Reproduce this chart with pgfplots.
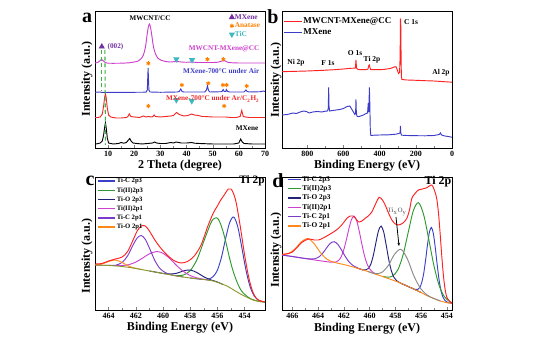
\documentclass[border=0pt]{standalone}
\usepackage{pgfplots}
\pgfplotsset{compat=1.18}
\usepackage{fontspec}
\setmainfont{Liberation Serif}
\usetikzlibrary{arrows.meta}
\definecolor{cMag}{HTML}{CC3FCC}
\definecolor{cBlu}{HTML}{3C3CC8}
\definecolor{cRed}{HTML}{F02828}
\definecolor{cPur}{HTML}{7030A0}
\definecolor{cOra}{HTML}{FF8000}
\definecolor{cTeal}{HTML}{3DB8C0}
\definecolor{cGrn}{HTML}{3CB043}
\definecolor{xBlue}{HTML}{3A40C8}
\definecolor{xGreen}{HTML}{2E9A2E}
\definecolor{xNavy}{HTML}{22227A}
\definecolor{xMag}{HTML}{D040D0}
\definecolor{xViol}{HTML}{7A3CC8}
\definecolor{xOra}{HTML}{FF8A1A}
\definecolor{xOlive}{HTML}{8C9A2C}
\definecolor{xRed}{HTML}{FF2020}
\definecolor{xGray}{HTML}{8A8A8A}
\newcommand{\FS}[1]{\fontsize{#1}{#1}\selectfont\bfseries}
\pgfplotsset{
  base/.style={
    scale only axis, width=127.5pt, anchor=south west,
    axis line style={line width=0.6pt},
    ytick=\empty, xtick pos=bottom, tick align=inside,
    major tick length=2pt, minor tick length=1.2pt,
    minor x tick num=1,
    tick label style={font=\FS{6}},
    xticklabel style={yshift=1pt},
    /pgf/number format/assume math mode=true,
    /pgf/number format/1000 sep={},
    every axis plot/.append style={line width=0.7pt},
    legend cell align=left,
  }
}
\begin{document}
\begin{tikzpicture}
\path[use as bounding box] (0,0) rectangle (414.75pt,253.5pt);

% ---------------- panel a ----------------
\begin{axis}[base, at={(71.25pt,142.5pt)}, height=102.75pt,
  xmin=5, xmax=70, ymin=0, ymax=137, xtick={10,20,...,70},
  legend style={at={(0.79,0.985)}, anchor=north west, draw=none, fill=none,
    font=\FS{5.5}, row sep=0.4pt, inner sep=0pt,
    nodes={inner sep=0.5pt, text height=4pt, text depth=1pt}},
  legend image code/.code={\draw[mark repeat=2,mark phase=2,#1] plot coordinates {(0pt,0pt)(3pt,0pt)(6pt,0pt)};}]
\addplot[forget plot, black] coordinates {(5,4)(6,4.3)(7,5)(7.8,7)(8.3,13)(8.7,21)(9.0,25)(9.3,20)(9.7,10)(10.2,5)(11,4.5)(12,4)(14,4.5)(15,5.5)(16,4.8)(17,5.5)(17.8,8)(18.3,9.5)(18.8,7)(19.5,5)(21,4.5)(23,4)(25,4.5)(27,5)(27.8,6)(28.5,5)(30,4.5)(32,4.5)(34,5.5)(35,5)(36,6)(37,5.5)(38,5)(40,5)(42,5.5)(43,4.8)(45,4.5)(50,4)(55,4)(58,4)(60,5)(60.7,9)(61.3,6)(62,4.5)(65,4)(70,4)};
\addplot[forget plot, cRed] coordinates {(5,30.5)(6,30.5)(7,31)(7.8,34)(8.3,42)(8.7,51)(9.0,54)(9.3,50)(9.7,40)(10.2,33)(11,31)(13,30)(15,30)(17,30.5)(17.6,31.5)(18.1,34)(18.7,31.5)(20,31)(22,30.5)(23.5,32)(24.5,31)(25.5,31.5)(26.5,31)(27.2,31.5)(27.6,33)(28.1,31.5)(30,31)(32,31.5)(34,32)(35,32.5)(36.2,35.5)(37.2,33.5)(39,32)(40.5,32.5)(42,34)(43,33)(44.5,32.5)(46,31.5)(47,31.5)(50,31)(53,31)(55,31)(57,30.5)(59,30.5)(60.5,31.5)(61.1,37.5)(61.7,31.5)(62.5,31)(64,30.5)(67,30.5)(70,30.5)};
\addplot[forget plot, cBlu] coordinates {(5,55.7)(7,56)(7.5,55.5)(9,55.7)(12,55.7)(20,55.7)(24.5,55.8)(25.0,58)(25.3,80)(25.6,58)(26,56)(30,55.7)(36.5,56)(37.2,56.5)(37.8,59)(38.3,56.5)(39,56)(47,56)(47.6,58)(48,62)(48.4,57.5)(49,56)(53.5,56.3)(54,58.5)(54.4,56.5)(55,56.5)(55.2,58.5)(55.7,56.5)(56.5,56)(62,56)(62.7,58)(63.2,56.5)(64,56)(68.5,56.3)(69.2,57)(70,56.5)};
\addplot[forget plot, cMag, smooth] coordinates {(5,85)(6,85.5)(6.8,87)(7.5,88.7)(8.2,87)(9,85.3)(10,84.8)(12,84.7)(15,84.8)(18,85.2)(20,86)(21.5,87)(22.5,89)(23.5,93)(24.3,101)(24.9,113)(25.4,121)(25.8,124)(26.2,121)(26.7,113)(27.3,102)(28,95)(29,90)(30.5,87.5)(32,86.5)(34,86)(36,86.5)(38,86)(40,85.7)(42,86)(44,85.5)(47,85.5)(50,85.5)(52,85.8)(53.5,87)(54.5,87.3)(55.5,86)(57,85.3)(60,85)(65,85)(70,85)};
\addplot[forget plot, cGrn, line width=0.8pt, dash pattern=on 3pt off 2pt] coordinates {(7.6,98)(7.6,57)};
\addplot[forget plot, cGrn, line width=0.8pt, dash pattern=on 3pt off 2pt] coordinates {(8.8,98)(9.0,3)};
\addplot[only marks, mark=triangle*, mark size=2pt, color=cPur] coordinates {(7.6,101.3)};
\addlegendentry{\textcolor{cPur}{MXene}}
\addplot[only marks, mark=asterisk, mark size=1.6pt, color=cOra] coordinates {(25.4,84.7)(38.2,63)(48.3,64.7)(53.9,63)(55.3,63)(63,62)(48,88.7)(54.1,88.7)(25.4,42)(54.4,42)};
\addlegendentry{\textcolor{cOra}{Anatase}}
\addplot[only marks, mark=triangle*, mark size=2pt, color=cTeal, mark options={rotate=180}] coordinates {(36.1,88.7)(42.1,88)(36.1,48)(42,47)};
\addlegendentry{\textcolor{cTeal}{TiC}}
\end{axis}

% ---------------- panel b ----------------
\begin{axis}[base, at={(211.5pt,142.5pt)}, height=102.75pt, x dir=reverse,
  xmin=0, xmax=940, ymin=0, ymax=137, xtick={0,200,...,800},
  legend style={at={(0.006,0.963)}, anchor=north west, draw=none, fill=none,
    font=\FS{6.75}, row sep=0.75pt, inner sep=0pt,
    nodes={inner sep=0.5pt, text height=5pt, text depth=1.5pt}},
  legend image code/.code={\draw[#1, line width=1pt] (0pt,0pt) -- (13.5pt,0pt);}]
\addplot[xRed] coordinates {(940,76.3)(880,76.6)(800,77)(720,77.6)(650,78.3)(600,79)(560,79.7)(540,79.8)(534,80)(531,88)(528,80)(520,78.5)(480,78.3)(465,78.8)(460,82.5)(457,83)(454,80.5)(450,78.5)(420,78.3)(380,78.5)(340,79.5)(320,81)(310,81.3)(302,78)(296,74.5)(290,75.5)(287,90)(285,128.5)(283.5,128)(282,100)(280,72)(277,68.5)(250,68)(200,67.7)(150,67.3)(100,67)(60,66.5)(0,65.8)};
\addlegendentry{MWCNT-MXene@CC}
\addplot[cBlu] coordinates {(940,33)(910,33.5)(880,35)(860,34.5)(840,36)(820,37)(805,36.5)(790,35)(770,36)(745,36.5)(720,36)(700,36.8)(688,37)(684,40)(682,60.5)(680,42)(677,37)(660,37.5)(640,38)(620,38.5)(600,39.5)(580,41.5)(565,42)(555,39)(545,36)(537,33.5)(533,35)(531,48.5)(529,36)(526,32)(518,31.3)(505,32)(490,33)(475,34.5)(467,35)(463,45)(461,36)(459,40)(457,60.7)(455,50)(452,20)(449,12.5)(430,12.8)(400,13)(350,13.2)(310,13.8)(295,14.5)(287,15)(285,22)(283,15)(279,12.8)(250,12.5)(200,12.3)(150,12.2)(100,12.5)(70,13.5)(64,15)(58,13)(40,12)(20,11.5)(0,10.7)};
\addlegendentry{MXene}
\end{axis}

% ---------------- panel c ----------------
\begin{axis}[base, at={(71.25pt,21pt)}, height=99.75pt, x dir=reverse,
  xmin=452.5, xmax=465, ymin=0, ymax=133, xtick={454,456,...,464},
  legend style={at={(0.015,1.0)}, anchor=north west, draw=none, fill=none,
    font=\FS{5}, row sep=1.1pt, inner sep=0pt,
    nodes={inner sep=0.5pt, text height=3.8pt, text depth=1pt}},
  legend image code/.code={\draw[#1, line width=1pt] (0pt,0pt) -- (12.75pt,0pt);}]
\addplot[xBlue, smooth] coordinates {(458,32)(457.5,31.2)(457,30.5)(456.6,31.1)(456.3,33.6)(456,39.8)(455.7,52.7)(455.4,71.2)(455.1,87.3)(454.8,93)(454.5,83.1)(454.2,62.1)(453.9,39.9)(453.6,23.5)(453.3,14.2)(453,10.1)(452.7,8.5)(452.5,8)};
\addlegendentry{Ti-C 2p3}
\addplot[xGreen, smooth] coordinates {(459,34.4)(458.5,35)(458,39.3)(457.5,50.5)(457,68.7)(456.5,86.5)(456.3,90.8)(456.05,92.2)(455.85,88.8)(455.6,79.3)(455.35,66.3)(455.1,51.5)(454.85,39.1)(454.6,29.4)(454.35,21.8)(454.1,17)(453.6,11.6)(453,8.8)(452.5,8)};
\addlegendentry{Ti(II)2p3}
\addplot[xNavy, smooth] coordinates {(461,39)(460.5,37.8)(460,36.6)(459.5,36)(459,36.7)(458.5,39.1)(458,40)(457.5,37.4)(457,33.2)(456.5,30.2)(456,28)(455.6,25.5)};
\addlegendentry{Ti-O 2p3}
\addplot[xMag, smooth] coordinates {(464,44.6)(463,44.5)(462.5,45.4)(462,47.9)(461.5,51.9)(461,56.2)(460.5,58.4)(460.3,58.2)(460,56.7)(459.5,51.5)(459,44.5)(458.5,38.6)(458,34.4)(457.5,32.1)(457,30.7)(456.5,29.5)};
\addlegendentry{Ti(II)2p1}
\addplot[xViol, smooth] coordinates {(465,45)(464,44.6)(463.5,44.7)(463,47.6)(462.6,54.2)(462.2,65)(461.9,72)(461.6,74.5)(461.3,70.6)(461,62)(460.6,49.5)(460.2,41.1)(459.7,36.5)(459.2,34.6)(458.5,33)};
\addlegendentry{Ti-C 2p1}
\addplot[xOra, smooth] coordinates {(465,45.2)(464.5,45.9)(464,48.5)(463.5,50)(463,47.5)(462.5,43.7)(462,41.7)(461.5,40.3)};
\addlegendentry{Ti-O 2p1}
\addplot[forget plot, xOlive, smooth] coordinates {(465,45)(464,44.5)(463,43.5)(462,41.5)(461,39)(460,36.5)(459,34)(458,32)(457,30.5)(456.3,29)(455.8,26.7)(455.3,24)(454.8,20)(454.3,16)(453.8,12.5)(453.3,9.6)(452.8,8.3)(452.5,8)};
\addplot[forget plot, xRed, smooth] coordinates {(465,46)(464.5,46.5)(464,49)(463.5,51)(463,53)(462.6,58.5)(462.2,70)(461.9,79)(461.6,84)(461.3,84)(461.0,79)(460.6,70)(460.2,62.5)(459.7,55)(459.2,49.5)(458.7,47)(458.2,48.5)(457.7,54)(457.2,65)(456.7,84)(456.3,97)(456.0,104)(455.8,109)(455.5,115)(455.2,121)(455.0,121)(454.8,116)(454.6,106)(454.3,82)(454.0,55)(453.7,33)(453.4,18)(453.1,11)(452.8,9)(452.5,8)};
\end{axis}

% ---------------- panel d ----------------
\begin{axis}[base, at={(211.5pt,21pt)}, height=99.75pt, x dir=reverse,
  xmin=453.6, xmax=466.8, ymin=0, ymax=133, xtick={454,456,...,466},
  legend style={at={(0.03,1.015)}, anchor=north west, draw=none, fill=none,
    font=\FS{5.5}, row sep=0.8pt, inner sep=0pt,
    nodes={inner sep=0.5pt, text height=4pt, text depth=1.2pt}},
  legend image code/.code={\draw[#1, line width=1pt] (0pt,0pt) -- (9.75pt,0pt);}]
\addplot[xBlue, smooth] coordinates {(457.5,26.3)(457,23.5)(456.5,20.7)(456.25,20.6)(456.1,22.5)(455.95,27.4)(455.8,36.3)(455.65,50)(455.5,65.5)(455.35,78.1)(455.2,82.5)(455.05,76.6)(454.9,62.5)(454.75,45.3)(454.6,29.9)(454.45,19)(454.3,12.8)(454.15,9.5)(453.9,7.3)(453.6,6.7)};
\addlegendentry{Ti-C 2p3}
\addplot[xGreen, smooth] coordinates {(459,33.7)(458.6,32.8)(458.2,34)(457.8,40.3)(457.4,55.1)(457,77.6)(456.6,99.4)(456.2,107.3)(455.8,95.2)(455.4,70.4)(455,44.2)(454.6,24.5)(454.2,13.5)(453.8,8.6)(453.6,7.3)};
\addlegendentry{Ti(II)2p3}
\addplot[xNavy, smooth] coordinates {(461,42)(460.5,40)(460.3,40.1)(460.1,41.5)(459.9,46)(459.7,55.1)(459.5,67.8)(459.3,79.6)(459.1,83.9)(458.9,77.8)(458.7,64.2)(458.5,49.7)(458.3,38.8)(458.1,32.5)(457.9,29.3)(457.5,26.3)(457,23.5)(456.5,20.5)(456,17.5)};
\addlegendentry{Ti-O 2p3}
\addplot[xMag, smooth] coordinates {(466.8,55)(465,51.5)(464,49.5)(463,47.8)(462.6,48.1)(462.4,49.6)(462.2,53.3)(462,60.4)(461.8,70.3)(461.6,81.6)(461.4,90.6)(461.2,93.7)(461,89.2)(460.8,78.7)(460.6,65.9)(460.4,54.5)(460.2,46.2)(460,41.2)(459.8,38.3)(459.4,35.2)};
\addlegendentry{Ti(II)2p1}
\addplot[xViol, smooth] coordinates {(466.8,55)(466,53.5)(465.5,52.5)(465,51.5)(464.55,51)(464.25,51.3)(463.95,52.9)(463.65,56.6)(463.35,61.9)(463.05,66.7)(462.75,68.3)(462.45,65.4)(462.15,59.4)(461.85,52.7)(461.55,47.5)(461.25,44.2)(460.95,42.2)(460.5,40)};
\addlegendentry{Ti-C 2p1}
\addplot[xOra, smooth] coordinates {(466.8,55.5)(466.3,56.5)(465.8,61)(465.3,68.2)(464.8,71.6)(464.3,66.2)(463.8,57.1)(463.3,50.7)(462.8,47.9)(462.3,46.3)(462,45.5)(461.5,43.8)(461,42)(460.5,40)(460,38)(459.5,35.7)(459,33.5)(458.5,31.2)(458,29)(457.5,26.3)(457,23.5)(456.5,20.5)(456,17.5)(455.5,14)(455,11.5)(454.5,9)(454,7.3)(453.6,6.7)};
\addlegendentry{Ti-O 2p1}
\addplot[forget plot, xGray, smooth] coordinates {(460.1,38.4)(459.55,36.3)(459.05,37.6)(458.55,44.4)(458.05,56)(457.55,60.6)(457.05,50.6)(456.55,33.8)(456.05,21.7)(455.55,15.2)(455.05,11.7)(454.5,9)};
\addplot[forget plot, xRed, smooth] coordinates {(466.8,55.7)(466.5,56)(466.03,57.7)(465.6,63)(465.25,67.7)(464.74,71)(464.3,70)(463.96,70)(463.6,72)(463.19,75)(462.8,78)(462.41,81.7)(462.1,86)(461.76,91.7)(461.5,94)(461.25,94)(461.0,90)(460.86,88)(460.6,89)(460.34,91.7)(460.1,94)(459.83,98)(459.5,107)(459.26,112.7)(459.0,110)(458.79,105)(458.5,96)(458.27,90)(458.0,86)(457.76,85)(457.4,87)(457.11,91.7)(456.9,100)(456.72,111.7)(456.5,116)(456.21,120)(455.9,121)(455.56,122.3)(455.35,124)(455.17,125)(455.0,121)(454.79,111.7)(454.65,97)(454.53,78)(454.4,55)(454.27,35)(454.15,22)(454.01,13)(453.8,9)(453.62,6.7)};
\end{axis}

% ---------------- texts (pixel coordinates) ----------------
\begin{scope}[shift={(0pt,253.5pt)}, x=0.75pt, y=-0.75pt]
\node[font=\FS{15}] at (87,18) {a};
\node[font=\FS{15}] at (273,17) {b};
\node[font=\FS{15}] at (90,181) {c};
\node[font=\FS{15}] at (278,181) {d};
% axis labels
\node[font=\FS{9}] at (180,166) {2 Theta (degree)};
\node[font=\FS{9}] at (367,166) {Binding Energy (eV)};
\node[font=\FS{9}] at (180,328) {Binding Energy (eV)};
\node[font=\FS{9}] at (367,329) {Binding Energy (eV)};
\node[font=\FS{9}, rotate=90] at (87,79) {Intensity (a.u.)};
\node[font=\FS{9}, rotate=90] at (276,80) {Intensity (a.u.)};
\node[font=\FS{9}, rotate=90] at (87,256) {Intensity (a.u.)};
\node[font=\FS{9}, rotate=90] at (276,250) {Intensity (a.u.)};
% panel a labels
\node[font=\FS{5.3}] at (150,18) {MWCNT/CC};
\node[font=\FS{5.4}, text=cPur, anchor=west] at (103,47) {(002)};
\node[font=\FS{5.4}, text=cMag, anchor=east] at (264,49) {MWCNT-MXene@CC};
\node[font=\FS{5.4}, text=cBlu, anchor=east] at (264,71) {MXene-700°C under Air};
\node[font=\FS{5.4}, text=cRed, anchor=east] at (264,99) {MXene-700°C under Ar/C\textsubscript{2}H\textsubscript{2}};
\node[font=\FS{5.4}, anchor=east] at (263,128) {MXene};
% panel b labels
\node[font=\FS{5.6}] at (296,63) {Ni 2p};
\node[font=\FS{5.6}] at (328,63) {F 1s};
\node[font=\FS{5.6}] at (355,53) {O 1s};
\node[font=\FS{5.6}] at (372,60) {Ti 2p};
\node[font=\FS{5.6}] at (411,22) {C 1s};
\node[font=\FS{5.6}] at (441,73) {Al 2p};
% panel c, d labels
\node[font=\FS{8.5}] at (252,181) {Ti 2p};
\node[font=\FS{9}] at (438,182) {Ti 2p};
\node[font=\FS{5}, text=xGray] at (397,212) {Ti\textsubscript{x}O\textsubscript{y}};
\draw[line width=0.6pt, -{Stealth[length=2.5pt,width=2pt]}] (396,217) -- (399,246);
\end{scope}
\end{tikzpicture}
\end{document}
